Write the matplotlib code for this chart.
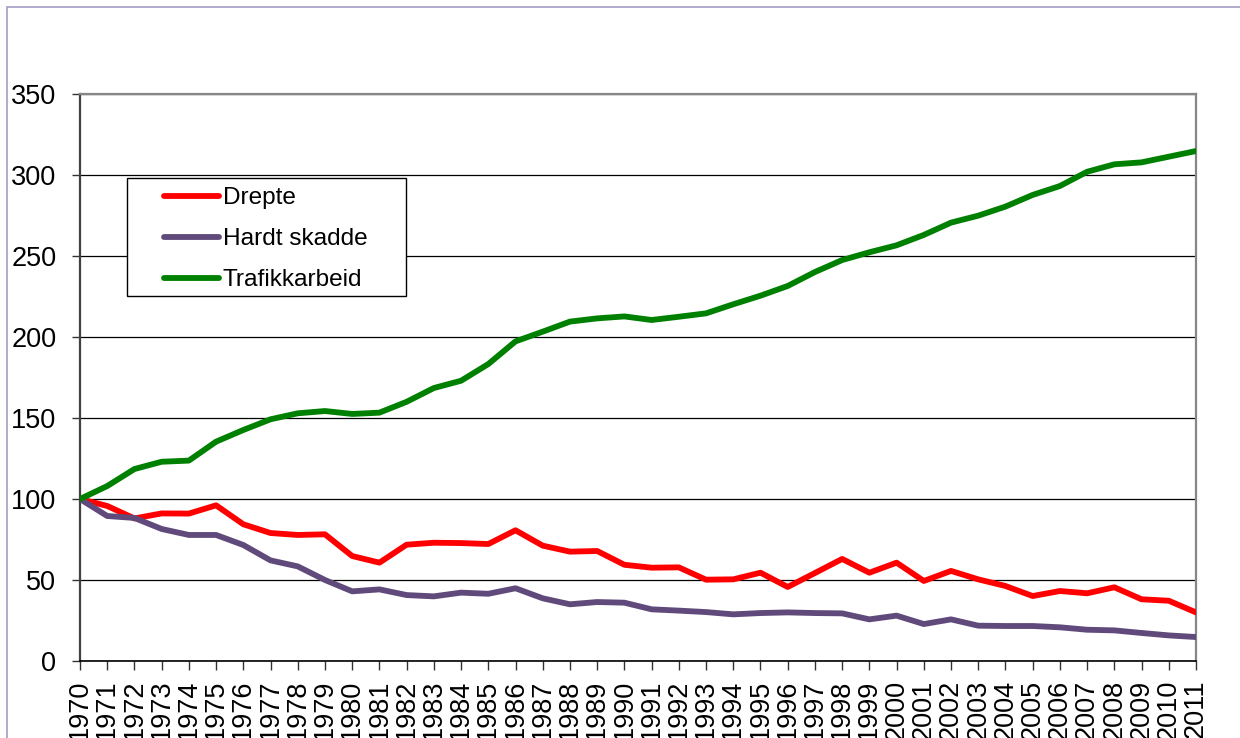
import matplotlib
matplotlib.use("Agg")
from matplotlib import pyplot as plt
from matplotlib.patches import Rectangle

plt.rcParams['font.family'] = ['Liberation Sans', 'DejaVu Sans']

# Indeks, 1970 = 100
years = list(range(1970, 2012))
drepte = [100, 95.7, 88, 91.1, 91, 96.1, 84.4, 79, 77.8, 78.2,
          64.8, 60.7, 71.8, 73, 72.8, 72.2, 80.7, 71.2, 67.5, 67.9,
          59.4, 57.6, 57.8, 50.2, 50.4, 54.5, 45.7, 54.3, 63, 54.5,
          60.7, 49.4, 55.6, 50.4, 46.3, 40.1, 43.2, 41.8, 45.5, 38.1,
          37.2, 30]
hardt_skadde = [100, 89.5, 88.3, 81.5, 77.8, 77.8, 71.6, 62.1, 58.4, 50,
                43, 44.2, 40.7, 39.9, 42.2, 41.5, 44.9, 38.7, 35, 36.4,
                36, 31.9, 31.1, 30.2, 28.8, 29.6, 30, 29.6, 29.4, 25.7,
                28, 22.8, 25.7, 21.8, 21.6, 21.6, 20.8, 19.3, 18.9, 17.3,
                15.8, 14.8]
trafikkarbeid = [100, 108, 118.5, 123, 123.7, 135.4, 142.6, 149.2, 152.9, 154.3,
                 152.5, 153.3, 160, 168.5, 173, 183.3, 197.3, 203.3, 209.5, 211.5,
                 212.7, 210.5, 212.5, 214.6, 220.2, 225.5, 231.5, 240.1, 247.5, 252.3,
                 256.6, 263, 270.6, 274.9, 280.5, 287.7, 293.2, 302, 306.6, 307.8,
                 311.3, 314.8]
y_ticks = [0, 50, 100, 150, 200, 250, 300, 350]

W, H = 1240, 738
fig = plt.figure(figsize=(W / 100, H / 100), dpi=100)
ax = fig.add_axes([80 / W, 1 - 661 / H, (1196 - 80) / W, (661 - 94) / H])

line_kw = dict(linewidth=4.2, solid_joinstyle='round', solid_capstyle='round', zorder=3)
ax.plot(years, drepte, color='#FF0000', label='Drepte', **line_kw)
ax.plot(years, hardt_skadde, color='#604A7B', label='Hardt skadde', **line_kw)
ax.plot(years, trafikkarbeid, color='#008000', label='Trafikkarbeid', **line_kw)

ax.set_xlim(years[0], years[-1])
ax.set_ylim(0, 350)
ax.set_yticks(y_ticks)
ax.set_xticks(years)
ax.set_xticklabels([str(y) for y in years], rotation=90, va='top')
ax.tick_params(axis='y', direction='out', length=6, width=1, pad=11, labelsize=19.5, color='#333333')
ax.tick_params(axis='x', direction='out', length=6.5, width=1, pad=7, labelsize=19.5, color='#333333')

ax.grid(axis='y', color='#000000', linewidth=0.9, zorder=1)
ax.set_axisbelow(True)
ax.spines['left'].set_color('#404040')
ax.spines['left'].set_linewidth(1.6)
ax.spines['bottom'].set_color('#000000')
ax.spines['bottom'].set_linewidth(1.2)
for side in ['top', 'right']:
    ax.spines[side].set_color('#868686')
    ax.spines[side].set_linewidth(1.6)

# legend box drawn on its own, entries placed inside it without a frame
ax.add_patch(Rectangle((127 / W, 1 - 296 / H), 279 / W, 118 / H,
                       transform=fig.transFigure, facecolor='white',
                       edgecolor='#000000', linewidth=1.0, zorder=4, clip_on=False))
leg = ax.legend(loc='upper left', bbox_to_anchor=(164 / W, 1 - 187 / H),
                bbox_transform=fig.transFigure, frameon=False, fontsize=17.6,
                handlelength=2.25, handletextpad=0.16, labelspacing=0.78,
                borderpad=0, borderaxespad=0)
leg.set_zorder(5)
for h in leg.get_lines():
    h.set_linewidth(4.2)
    h.set_solid_capstyle('round')

# chart border
fig.patches.append(Rectangle((7 / W, -0.05), 1.1, 1 - 7 / H + 0.05,
                             transform=fig.transFigure, fill=False,
                             edgecolor='#A39DC4', linewidth=1.2))

fig.savefig("out.png", dpi=100)
